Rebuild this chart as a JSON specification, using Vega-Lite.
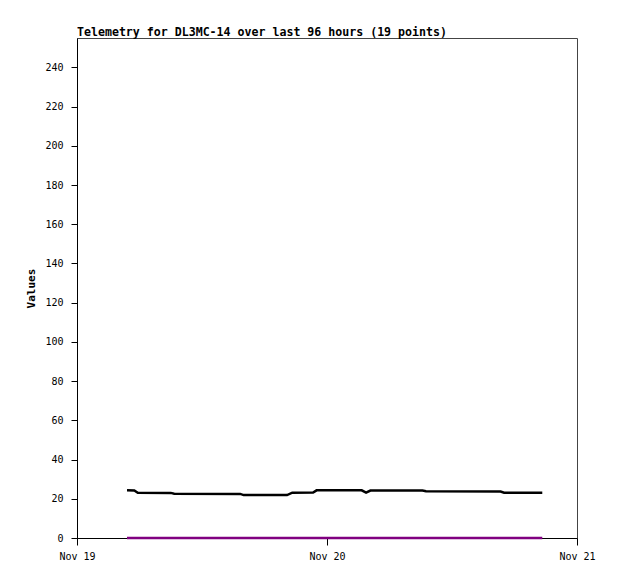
{
  "$schema": "https://vega.github.io/schema/vega-lite/v6.json",
  "width": 500,
  "height": 500,
  "autosize": {"type": "none"},
  "padding": {"left": 77, "top": 38, "right": 41, "bottom": 41},
  "background": "white",
  "title": {
    "text": "Telemetry for DL3MC-14 over last 96 hours (19 points)",
    "anchor": "start",
    "frame": "group",
    "font": "DejaVu Sans Mono",
    "fontSize": 11.6,
    "fontWeight": "bold",
    "color": "black",
    "offset": -1
  },
  "config": {
    "view": {"stroke": "#444444", "strokeWidth": 1},
    "axis": {
      "labelFont": "DejaVu Sans Mono",
      "labelFontSize": 10,
      "labelColor": "black",
      "titleFont": "DejaVu Sans Mono",
      "titleFontSize": 11,
      "titleFontWeight": "bold",
      "titleColor": "black",
      "domainColor": "black",
      "tickColor": "black",
      "grid": false
    }
  },
  "data": {
    "values": [
      {"time": "2023-11-19T04:48:00Z", "value": 24.4, "series": "A"},
      {"time": "2023-11-19T05:30:00Z", "value": 24.2, "series": "A"},
      {"time": "2023-11-19T05:50:00Z", "value": 23.1, "series": "A"},
      {"time": "2023-11-19T09:00:00Z", "value": 23.0, "series": "A"},
      {"time": "2023-11-19T09:20:00Z", "value": 22.6, "series": "A"},
      {"time": "2023-11-19T15:40:00Z", "value": 22.5, "series": "A"},
      {"time": "2023-11-19T16:00:00Z", "value": 21.9, "series": "A"},
      {"time": "2023-11-19T20:10:00Z", "value": 21.9, "series": "A"},
      {"time": "2023-11-19T20:40:00Z", "value": 23.1, "series": "A"},
      {"time": "2023-11-19T22:40:00Z", "value": 23.2, "series": "A"},
      {"time": "2023-11-19T23:00:00Z", "value": 24.3, "series": "A"},
      {"time": "2023-11-20T03:20:00Z", "value": 24.3, "series": "A"},
      {"time": "2023-11-20T03:45:00Z", "value": 23.1, "series": "A"},
      {"time": "2023-11-20T04:10:00Z", "value": 24.2, "series": "A"},
      {"time": "2023-11-20T09:10:00Z", "value": 24.2, "series": "A"},
      {"time": "2023-11-20T09:30:00Z", "value": 23.8, "series": "A"},
      {"time": "2023-11-20T16:40:00Z", "value": 23.7, "series": "A"},
      {"time": "2023-11-20T17:00:00Z", "value": 23.1, "series": "A"},
      {"time": "2023-11-20T20:40:00Z", "value": 23.1, "series": "A"},
      {"time": "2023-11-19T04:48:00Z", "value": 0, "series": "B"},
      {"time": "2023-11-19T09:00:00Z", "value": 0, "series": "B"},
      {"time": "2023-11-19T16:00:00Z", "value": 0, "series": "B"},
      {"time": "2023-11-19T23:00:00Z", "value": 0, "series": "B"},
      {"time": "2023-11-20T04:10:00Z", "value": 0, "series": "B"},
      {"time": "2023-11-20T09:30:00Z", "value": 0, "series": "B"},
      {"time": "2023-11-20T17:00:00Z", "value": 0, "series": "B"},
      {"time": "2023-11-20T20:40:00Z", "value": 0, "series": "B"}
    ]
  },
  "mark": {"type": "line", "strokeWidth": 2.5, "interpolate": "linear"},
  "encoding": {
    "x": {
      "field": "time",
      "type": "temporal",
      "scale": {
        "type": "utc",
        "domain": [
          {"year": 2023, "month": 11, "date": 19, "utc": true},
          {"year": 2023, "month": 11, "date": 21, "utc": true}
        ]
      },
      "axis": {
        "title": null,
        "format": "%b %d",
        "formatType": "time",
        "values": [
          {"year": 2023, "month": 11, "date": 19, "utc": true},
          {"year": 2023, "month": 11, "date": 20, "utc": true},
          {"year": 2023, "month": 11, "date": 21, "utc": true}
        ],
        "tickSize": 7,
        "labelPadding": 6,
        "labelFlush": false,
        "labelOverlap": false
      }
    },
    "y": {
      "field": "value",
      "type": "quantitative",
      "scale": {"domain": [0, 255], "nice": false, "zero": true},
      "axis": {
        "title": "Values",
        "values": [0, 20, 40, 60, 80, 100, 120, 140, 160, 180, 200, 220, 240],
        "tickSize": 6,
        "labelPadding": 8,
        "titlePadding": 8
      }
    },
    "color": {
      "field": "series",
      "type": "nominal",
      "scale": {"domain": ["A", "B"], "range": ["black", "#800080"]},
      "legend": null
    }
  }
}
